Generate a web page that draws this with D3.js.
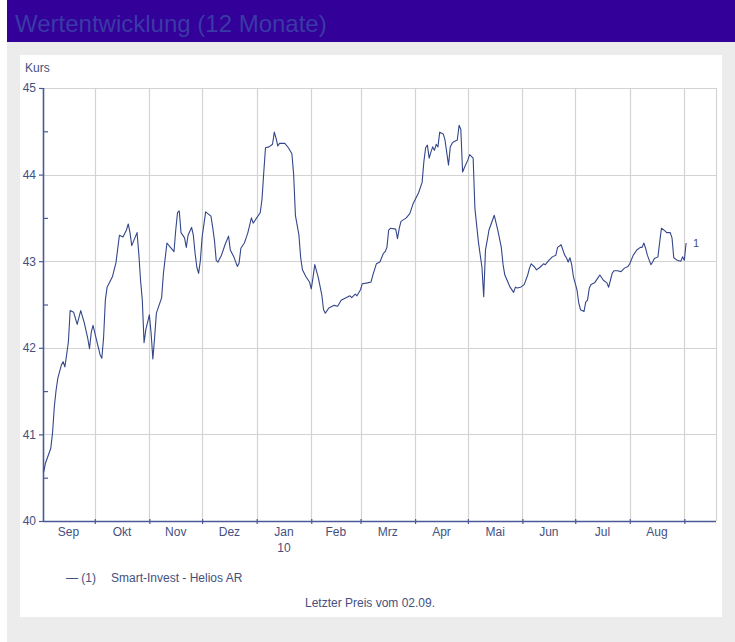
<!DOCTYPE html>
<html><head><meta charset="utf-8">
<script src="https://cdn.jsdelivr.net/npm/d3@7"></script>
<style>
html,body{margin:0;padding:0;background:#fff;}
svg{display:block;font-family:"Liberation Sans",Arial,Helvetica,sans-serif;}
</style></head><body>
<svg id="chart" width="735" height="642"></svg>
<script>
const titleText = "Wertentwicklung (12 Monate)";
const yAxisTitle = "Kurs";
const seriesName = "Smart-Invest - Helios AR";
const seriesIndex = "1";
const footnote = "Letzter Preis vom 02.09.";
const startDate = "2009-09-01";
const endDate = "2010-09-19";
const monthLabels = ["Sep","Okt","Nov","Dez","Jan","Feb","Mrz","Apr","Mai","Jun","Jul","Aug"];
const yearLabels = ["","","","","10","","","","","","",""];
const yTicks = [40,41,42,43,44,45];
const yMinorTicks = [40.5,41.5,42.5,43.5,44.5];
// trading days, as day offsets from startDate
const dayOffsets = [
1,2,5,6,7,8,9,11,12,13,
14,15,16,18,20,22,24,26,27,28,
29,31,33,34,35,36,37,40,42,44,
46,48,49,50,51,54,55,56,57,58,
59,61,62,63,64,65,68,69,71,73,
75,76,77,78,79,81,82,83,85,86,
87,88,89,90,91,93,96,97,98,99,
100,102,104,106,107,109,111,112,113,115,
116,117,119,120,122,124,125,126,127,129,
131,132,133,134,135,138,140,142,143,144,
146,147,148,150,152,153,154,155,157,159,
160,161,163,166,168,170,173,175,176,178,
179,181,182,185,187,188,190,192,194,195,
196,197,198,201,202,203,204,207,209,211,
214,216,217,218,219,220,221,222,223,224,
225,226,228,229,231,232,233,234,236,237,
238,239,240,242,243,245,246,248,250,251,
252,253,254,257,259,261,262,263,266,268,
269,270,272,274,276,277,278,280,281,283,
285,286,288,290,292,293,295,297,298,299,
300,301,302,304,305,306,308,309,310,311,
312,314,316,317,319,321,322,323,324,325,
327,329,331,333,334,336,338,340,341,342,
343,344,346,347,348,350,351,352,354,355,
357,358,359,361,363,364,365,366];
const prices = [
40.57,40.67,40.84,41.02,41.32,41.51,41.65,41.80,41.84,41.78,
41.92,42.07,42.43,42.41,42.27,42.43,42.29,42.11,41.99,42.18,
42.26,42.09,41.92,41.88,42.12,42.55,42.70,42.82,42.98,43.30,
43.28,43.36,43.43,43.33,43.18,43.33,43.09,42.78,42.55,42.06,
42.21,42.38,42.17,41.87,42.12,42.40,42.58,42.86,43.21,43.16,
43.11,43.36,43.56,43.58,43.33,43.27,43.16,43.30,43.39,43.30,
43.09,42.93,42.86,43.01,43.28,43.57,43.52,43.39,43.24,43.01,
42.99,43.07,43.19,43.29,43.13,43.05,42.94,42.98,43.15,43.21,
43.27,43.33,43.50,43.44,43.50,43.56,43.71,44.02,44.31,44.32,
44.35,44.49,44.42,44.33,44.36,44.36,44.31,44.24,44.00,43.53,
43.30,43.04,42.90,42.82,42.76,42.68,42.81,42.96,42.81,42.61,
42.44,42.40,42.46,42.49,42.48,42.55,42.58,42.60,42.58,42.62,
42.60,42.67,42.74,42.75,42.76,42.84,42.97,42.99,43.09,43.11,
43.16,43.36,43.38,43.37,43.26,43.38,43.46,43.50,43.55,43.67,
43.79,43.91,44.15,44.31,44.34,44.19,44.26,44.32,44.28,44.35,
44.32,44.49,44.47,44.40,44.11,44.32,44.36,44.38,44.40,44.57,
44.52,44.03,44.08,44.17,44.23,44.19,43.61,43.22,42.93,42.59,
43.13,43.24,43.36,43.53,43.36,43.16,42.96,42.84,42.70,42.64,
42.70,42.69,42.70,42.73,42.84,42.92,42.97,42.93,42.90,42.93,
42.97,42.96,43.01,43.05,43.07,43.16,43.19,43.07,43.04,42.99,
43.04,42.96,42.82,42.67,42.52,42.44,42.42,42.53,42.55,42.69,
42.73,42.75,42.81,42.84,42.78,42.75,42.70,42.78,42.86,42.89,
42.89,42.88,42.92,42.94,42.97,43.07,43.13,43.16,43.16,43.21,
43.15,43.07,42.96,42.99,43.03,43.05,43.22,43.38,43.35,43.33,
43.33,43.27,43.04,43.01,43.00,43.05,43.01,43.21];

const parse = d3.timeParse("%Y-%m-%d");
const t0 = parse(startDate), t1 = parse(endDate);
const data = dayOffsets.map((d,i)=>({date: d3.timeDay.offset(t0, d), value: prices[i]}));

const svg = d3.select("#chart");
const axisColor = "#4a5a96", gridColor = "#d3d3d3", textColor = "#44507e", lineColor = "#34468a";

// backgrounds
svg.append("rect").attr("x",0).attr("y",0).attr("width",735).attr("height",642).attr("fill","#ffffff");
svg.append("rect").attr("x",7).attr("y",42).attr("width",728).attr("height",600).attr("fill","#ececec");
svg.append("rect").attr("x",7).attr("y",0).attr("width",728).attr("height",42).attr("fill","#330099");
svg.append("text").attr("x",15).attr("y",32).attr("font-size",24).attr("fill","#3a3aa6").text(titleText);
svg.append("rect").attr("x",20).attr("y",55).attr("width",702).attr("height",562).attr("fill","#ffffff");

const L = 43, R = 716, T = 88, B = 521;
const x = d3.scaleTime().domain([t0, t1]).range([42, R]);
const y = d3.scaleLinear().domain([40, 45]).range([B, T]);
const px = v => Math.round(v) + 0.5;

// grid
const monthStarts = d3.timeMonth.range(d3.timeMonth.offset(t0,1), d3.timeDay.offset(t0, 366));
const grid = svg.append("g").attr("stroke", gridColor).attr("stroke-width", 1.2);
monthStarts.forEach(m => grid.append("line").attr("x1",px(x(m))).attr("x2",px(x(m))).attr("y1",T).attr("y2",B));
grid.append("line").attr("x1",px(R)).attr("x2",px(R)).attr("y1",T).attr("y2",B);
yTicks.filter(v=>v>40).forEach(v => grid.append("line").attr("x1",L).attr("x2",R).attr("y1",px(y(v))).attr("y2",px(y(v))));

// y axis
const yAxis = d3.axisLeft(y).tickValues(yTicks).tickSize(4).tickPadding(3).tickFormat(d3.format("d"));
const gy = svg.append("g").attr("transform",`translate(${L},0)`).call(yAxis);
const yMinor = d3.axisLeft(y).tickValues(yMinorTicks).tickSizeInner(-5).tickSizeOuter(0).tickFormat("");
const gym = svg.append("g").attr("transform",`translate(${L},0)`).call(yMinor);
gym.select(".domain").remove();

// x axis
const xAxis = d3.axisBottom(x).tickValues(monthStarts).tickSizeInner(3).tickSizeOuter(0).tickFormat("");
const gx = svg.append("g").attr("transform",`translate(0,${B})`).call(xAxis);
gx.selectAll(".tick line").attr("y1",-2);

[gy, gym, gx].forEach(g => {
  g.select(".domain").attr("stroke", axisColor).attr("stroke-width", 1.6);
  g.selectAll(".tick line").attr("stroke", axisColor).attr("stroke-width", 1.2);
  g.selectAll("text").attr("fill", textColor).attr("font-size", 12).attr("font-family", '"Liberation Sans",Arial,sans-serif');
});
gy.select(".domain").attr("d", `M0.5,${T}V${B}`);
gx.select(".domain").attr("d", `M${L},0.5H${R}`);

// month labels centered in each month
const monthCenters = d3.timeMonth.range(t0, d3.timeDay.offset(t0, 365)).map(m => (x(m) + x(d3.timeMonth.offset(m,1))) / 2);
monthLabels.forEach((lab, i) => {
  svg.append("text").attr("x", monthCenters[i]).attr("y", 536).attr("text-anchor","middle")
    .attr("font-size",12).attr("fill",textColor).text(lab);
  if (yearLabels[i]) svg.append("text").attr("x", monthCenters[i]).attr("y", 552).attr("text-anchor","middle")
    .attr("font-size",12).attr("fill",textColor).text(yearLabels[i]);
});

svg.append("text").attr("x",25).attr("y",72).attr("font-size",12).attr("fill",textColor).text(yAxisTitle);

// line
const line = d3.line().x(d=>x(d.date)).y(d=>y(d.value));
svg.append("path").datum(data).attr("d", line).attr("fill","none").attr("stroke", lineColor).attr("stroke-width", 1.1).attr("stroke-linejoin","round");
const last = data[data.length-1];
svg.append("text").attr("x", x(last.date)+7).attr("y", y(last.value)+4).attr("font-size",11).attr("fill",textColor).text(seriesIndex);

// legend
svg.append("text").attr("x",66).attr("y",582).attr("font-size",12).attr("fill",textColor).text(`— (${seriesIndex})`);
svg.append("text").attr("x",111).attr("y",582).attr("font-size",12).attr("fill",textColor).text(seriesName);
svg.append("text").attr("x",370).attr("y",607).attr("text-anchor","middle").attr("font-size",12).attr("fill",textColor).text(footnote);
</script>
</body></html>
